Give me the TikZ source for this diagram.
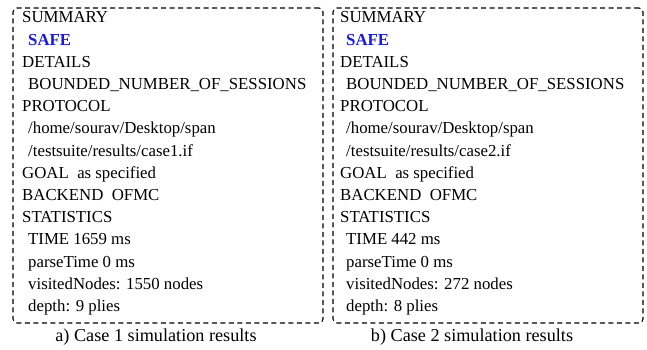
\documentclass[tikz,border=0pt]{standalone}
\usepackage{fontspec}
\setmainfont{Liberation Serif}
\usetikzlibrary{positioning}
\definecolor{safeblue}{RGB}{25,25,225}
\tikzset{
  panel/.style={draw, dash pattern=on 5pt off 3.5pt, line width=1.1pt, rounded corners=4pt,
    minimum width=310pt, minimum height=315pt, inner sep=0pt},
  listing/.style={anchor=north west, align=left, inner sep=0pt,
    font=\fontsize{16.8}{22.2}\selectfont},
  caption/.style={anchor=base, inner sep=0pt, font=\fontsize{18.2}{20}\selectfont}
}
\newcommand{\ind}{\hspace*{6pt}}
\begin{document}
\begin{tikzpicture}[x=1pt,y=-1pt]
\useasboundingbox (0,0) rectangle (647,350);
% Case 1
\node[panel] (frameA) at (168,165.5) {};
\node[listing] (listA) at (22,11.6) {SUMMARY\\
\ind\textcolor{safeblue}{\textbf{SAFE}}\\
DETAILS\\
\ind BOUNDED\_NUMBER\_OF\_SESSIONS\\
PROTOCOL\\
\ind/home/sourav/Desktop/span\\
\ind/testsuite/results/case1.if\\
GOAL\ \ as specified\\
BACKEND\ \ OFMC\\
STATISTICS\\
\ind TIME 1659 ms\\
\ind parseTime 0 ms\\
\ind visitedNodes: 1550 nodes\\
\ind depth: 9 plies};
\node[caption] (capA) at (156,341.7) {a) Case 1 simulation results};
% Case 2
\node[panel] (frameB) at (488,165.5) {};
\node[listing] (listB) at (340,11.6) {SUMMARY\\
\ind\textcolor{safeblue}{\textbf{SAFE}}\\
DETAILS\\
\ind BOUNDED\_NUMBER\_OF\_SESSIONS\\
PROTOCOL\\
\ind/home/sourav/Desktop/span\\
\ind/testsuite/results/case2.if\\
GOAL\ \ as specified\\
BACKEND\ \ OFMC\\
STATISTICS\\
\ind TIME 442 ms\\
\ind parseTime 0 ms\\
\ind visitedNodes: 272 nodes\\
\ind depth: 8 plies};
\node[caption] (capB) at (472,341.7) {b) Case 2 simulation results};
\end{tikzpicture}
\end{document}
